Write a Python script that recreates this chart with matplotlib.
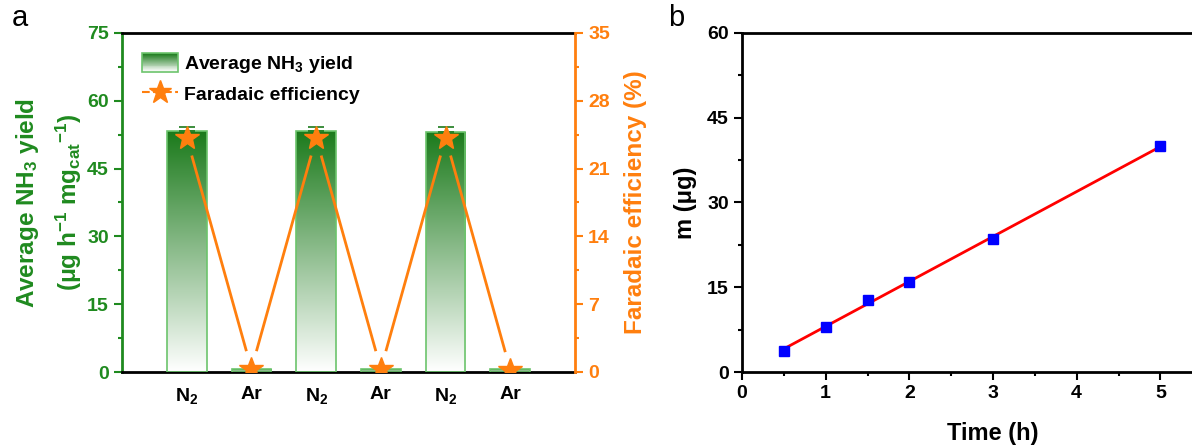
import numpy as np
import matplotlib
matplotlib.use("Agg")
import matplotlib.pyplot as plt
from matplotlib.patches import Rectangle
from matplotlib.lines import Line2D
from matplotlib.legend_handler import HandlerBase
from matplotlib.colors import LinearSegmentedColormap

plt.rcParams['font.family'] = ['Liberation Sans', 'DejaVu Sans']
plt.rcParams['font.weight'] = 'bold'
plt.rcParams['axes.labelweight'] = 'bold'
plt.rcParams['mathtext.fontset'] = 'custom'
plt.rcParams['mathtext.rm'] = 'Liberation Sans:bold'
plt.rcParams['mathtext.it'] = 'Liberation Sans:bold'
plt.rcParams['mathtext.bf'] = 'Liberation Sans:bold'
plt.rcParams['mathtext.default'] = 'bf'

GREEN = '#1f8a1f'
BAR_TOP = '#1b7a1b'
BAR_EDGE = '#6cc46c'
ORANGE = '#ff7f0e'

# panel a: NH3 yield under N2 / Ar
gases = ['N$_2$', 'Ar', 'N$_2$', 'Ar', 'N$_2$', 'Ar']
nh3_yield = [53.3, 0.6, 53.4, 0.6, 53.2, 0.6]
yield_err = [0.9, 0.0, 0.9, 0.0, 0.9, 0.0]
faradaic_eff = [24.2, 0.3, 24.2, 0.3, 24.2, 0.2]

# panel b: mass vs time
time_h = [0.5, 1.0, 1.5, 2.0, 3.0, 5.0]
mass_ug = [3.8, 8.0, 12.8, 16.0, 23.5, 40.0]

grad_cmap = LinearSegmentedColormap.from_list('g', ['#ffffff', BAR_TOP])


class GradientPatchHandler(HandlerBase):
    def create_artists(self, legend, orig_handle, xdescent, ydescent,
                       width, height, fontsize, trans):
        arts = []
        n = 20
        for i in range(n):
            r = Rectangle((-xdescent, -ydescent + height * i / n), width, height / n + 0.3,
                          facecolor=grad_cmap(i / (n - 1)), edgecolor='none', transform=trans)
            arts.append(r)
        arts.append(Rectangle((-xdescent, -ydescent), width, height, facecolor='none',
                              edgecolor=BAR_EDGE, lw=1.2, transform=trans))
        return arts


def gapped_line(axis, xs, ys, gap_px, **kw):
    # connect the points but leave a small gap around each marker
    pts = axis.transData.transform(np.column_stack([xs, ys]))
    inv = axis.transData.inverted()
    for p, q in zip(pts[:-1], pts[1:]):
        d = q - p
        u = d / np.hypot(*d)
        seg = inv.transform(np.array([p + u * gap_px, q - u * gap_px]))
        axis.plot(seg[:, 0], seg[:, 1], **kw)


fig = plt.figure(figsize=(11.92, 4.48), dpi=100)

ax = fig.add_axes([122 / 1192, 76 / 448, 453 / 1192, 339 / 448])
x = np.arange(1, len(gases) + 1)
bw = 0.615

grad = np.linspace(0, 1, 256).reshape(-1, 1)
for xi, h, e in zip(x, nh3_yield, yield_err):
    im = ax.imshow(grad, cmap=grad_cmap, aspect='auto', origin='lower',
                   extent=(xi - bw / 2, xi + bw / 2, 0, h), zorder=2)
    rect = Rectangle((xi - bw / 2, 0), bw, h, facecolor='none', edgecolor=BAR_EDGE, lw=1.2, zorder=3)
    ax.add_patch(rect)
    im.set_clip_path(rect)
    if e > 0:
        ax.errorbar(xi, h, yerr=[[0], [e]], color=BAR_TOP, capsize=6, lw=1.2, capthick=1.2, zorder=3)
ax.set_xlim(0, 7)
ax.set_ylim(0, 75)

ax.set_xticks(x)
ax.set_xticklabels(gases, fontsize=14)
ax.tick_params(axis='x', length=0, pad=10)
ax.set_yticks(np.arange(0, 76, 15))
ax.set_yticks(np.arange(7.5, 75, 15), minor=True)
ax.tick_params(axis='y', colors=GREEN, labelsize=14, width=1.5, length=6, direction='out')
ax.tick_params(axis='y', which='minor', colors=GREEN, width=1.5, length=3)
for lbl in ax.get_yticklabels():
    lbl.set_color(GREEN)
    lbl.set_fontweight('bold')
ax.spines['left'].set_color(GREEN)
ax.spines['left'].set_linewidth(2)
ax.spines['bottom'].set_linewidth(2)
ax.spines['top'].set_linewidth(2)
ax.spines['right'].set_visible(False)
ax.set_ylabel('Average NH$_3$ yield\n(μg h$^{-1}$ mg$_{cat}$$^{-1}$)', color=GREEN,
              fontsize=17.5, fontweight='bold', labelpad=2, linespacing=1.55)

ax2 = ax.twinx()
ax2.set_ylim(0, 35)
ax2.set_xlim(0, 7)
gapped_line(ax2, x, faradaic_eff, 20, color=ORANGE, lw=2, zorder=4)
ax2.plot(x, faradaic_eff, ls='none', marker='*', ms=18, color=ORANGE, zorder=5)
ax2.set_yticks(np.arange(0, 36, 7))
ax2.set_yticks(np.arange(3.5, 35, 7), minor=True)
ax2.tick_params(axis='y', colors=ORANGE, labelsize=14, width=1.5, length=6)
ax2.tick_params(axis='y', which='minor', colors=ORANGE, width=1.5, length=3)
for lbl in ax2.get_yticklabels():
    lbl.set_color(ORANGE)
    lbl.set_fontweight('bold')
for s in ['left', 'top', 'bottom']:
    ax2.spines[s].set_visible(False)
ax2.spines['right'].set_color(ORANGE)
ax2.spines['right'].set_linewidth(2)
ax2.set_ylabel('Faradaic efficiency (%)', color=ORANGE, fontsize=17.5, fontweight='bold', labelpad=10)

bar_handle = Rectangle((0, 0), 1, 1)
fe_handle = Line2D([], [], color=ORANGE, ls='--', lw=1.5, marker='*', ms=17)
ax2.legend([bar_handle, fe_handle], ['Average NH$_3$ yield', 'Faradaic efficiency'],
           handler_map={Rectangle: GradientPatchHandler()}, loc='upper left',
           frameon=False, prop={'size': 14, 'weight': 'bold'}, handlelength=1.85,
           handleheight=1.1, handletextpad=0.3, borderaxespad=0.65, labelspacing=0.45)

fig.text(12 / 1192, 1 - 18 / 448, 'a', fontsize=21, fontweight='normal', va='center')

# panel b
bx = fig.add_axes([742 / 1192, 76 / 448, 502 / 1192, 339 / 448])
slope, icpt = np.polyfit(time_h, mass_ug, 1)
tfit = np.array([time_h[0], time_h[-1]])
bx.plot(tfit, slope * tfit + icpt, color='#ff0000', lw=2, zorder=2)
bx.plot(time_h, mass_ug, ls='none', marker='s', ms=6.5, color='#0000ff', zorder=3)
bx.set_xlim(0, 6)
bx.set_ylim(0, 60)
bx.set_xticks(np.arange(0, 6))
bx.set_xticks(np.arange(0.5, 6, 1), minor=True)
bx.set_yticks(np.arange(0, 61, 15))
bx.set_yticks(np.arange(7.5, 60, 15), minor=True)
bx.tick_params(labelsize=14, width=1.5, length=6, direction='out')
bx.tick_params(which='minor', width=1.5, length=3)
for lbl in bx.get_xticklabels() + bx.get_yticklabels():
    lbl.set_fontweight('bold')
for s in bx.spines.values():
    s.set_linewidth(2)
bx.set_xlabel('Time (h)', fontsize=17, fontweight='bold', labelpad=14)
bx.set_ylabel('m (μg)', fontsize=17, fontweight='bold', labelpad=7)
fig.text(668 / 1192, 1 - 18 / 448, 'b', fontsize=21, fontweight='normal', va='center')

fig.savefig('out.png', dpi=100)
